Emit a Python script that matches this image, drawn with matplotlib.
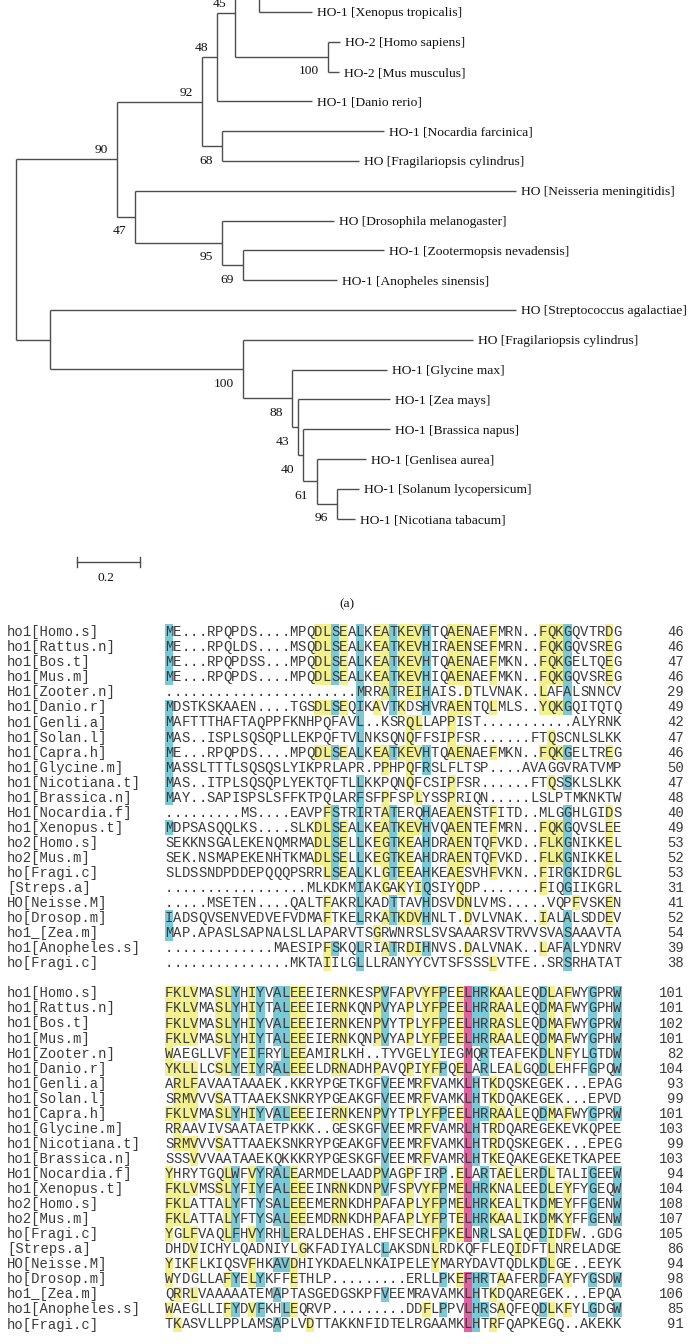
import matplotlib.pyplot as plt
from matplotlib.patches import Rectangle

# ---------------- tree data ----------------
# leaves top to bottom; the first five sit above the cropped top edge
leaf_labels = [
    'HO-1 [Homo sapiens]', 'HO-1 [Bos taurus]', 'HO-1 [Capra hircus]',
    'HO-1 [Rattus norvegicus]', 'HO-1 [Mus musculus]',
    'HO-1 [Xenopus tropicalis]', 'HO-2 [Homo sapiens]', 'HO-2 [Mus musculus]',
    'HO-1 [Danio rerio]', 'HO-1 [Nocardia farcinica]',
    'HO [Fragilariopsis cylindrus]', 'HO [Neisseria meningitidis]',
    'HO [Drosophila melanogaster]', 'HO-1 [Zootermopsis nevadensis]',
    'HO-1 [Anopheles sinensis]', 'HO [Streptococcus agalactiae]',
    'HO [Fragilariopsis cylindrus]', 'HO-1 [Glycine max]', 'HO-1 [Zea mays]',
    'HO-1 [Brassica napus]', 'HO-1 [Genlisea aurea]',
    'HO-1 [Solanum lycopersicum]', 'HO-1 [Nicotiana tabacum]',
]
leaf_depth = [1.00, 1.00, 1.00, 1.00, 1.00,
              0.941, 1.030, 1.027, 0.941, 1.170, 1.090, 1.588, 1.011,
              1.170, 1.020, 1.588, 1.452, 1.179, 1.189, 1.189, 1.112,
              1.090, 1.078]
# internal node: (depth, children, bootstrap)
nodes = {
    'bc':   (0.92, [1, 2], None),
    'hbc':  (0.88, [0, 'bc'], None),
    'rm':   (0.92, [3, 4], None),
    'mam':  (0.84, ['hbc', 'rm'], None),
    'xen':  (0.773, ['mam', 5], None),
    'hm':   (0.992, [6, 7], 100),
    'n45':  (0.697, ['xen', 'hm'], 45),
    'n48':  (0.640, ['n45', 8], 48),
    'n68':  (0.655, [9, 10], 68),
    'n92':  (0.592, ['n48', 'n68'], 92),
    'n69':  (0.722, [13, 14], 69),
    'n95':  (0.655, [12, 'n69'], 95),
    'n47':  (0.379, [11, 'n95'], 47),
    'n90':  (0.322, ['n92', 'n47'], 90),
    'n96':  (1.020, [21, 22], 96),
    'n61':  (0.957, [20, 'n96'], 61),
    'n40':  (0.913, [19, 'n61'], 40),
    'n43':  (0.897, [18, 'n40'], 43),
    'n88':  (0.877, [17, 'n43'], 88),
    'n100': (0.722, [16, 'n88'], 100),
    'nS':   (0.109, [15, 'n100'], None),
    'root': (0.0, ['n90', 'nS'], None),
}
scale_len = 0.2

# ---------------- alignment data ----------------
aln_names = ['ho1[Homo.s]', 'ho1[Rattus.n]', 'ho1[Bos.t]', 'ho1[Mus.m]',
             'Ho1[Zooter.n]', 'ho1[Danio.r]', 'ho1[Genli.a]', 'ho1[Solan.l]',
             'ho1[Capra.h]', 'ho1[Glycine.m]', 'ho1[Nicotiana.t]',
             'ho1[Brassica.n]', 'Ho1[Nocardia.f]', 'ho1[Xenopus.t]',
             'ho2[Homo.s]', 'ho2[Mus.m]', 'ho[Fragi.c]', '[Streps.a]',
             'HO[Neisse.M]', 'ho[Drosop.m]', 'ho1_[Zea.m]',
             'ho1[Anopheles.s]', 'ho[Fragi.c]']

block1_seq = [
    'ME...RPQPDS....MPQDLSEALKEATKEVHTQAENAEFMRN..FQKGQVTRDG',
    'ME...RPQLDS....MSQDLSEALKEATKEVHIRAENSEFMRN..FQKGQVSREG',
    'ME...RPQPDSS...MPQDLSEALKEATKEVHTQAENAEFMKN..FQKGELTQEG',
    'ME...RPQPDS....MPQDLSEALKEATKEVHIQAENAEFMKN..FQKGQVSREG',
    '.......................MRRATREIHAIS.DTLVNAK..LAFALSNNCV',
    'MDSTKSKAAEN....TGSDLSEQIKAVTKDSHVRAENTQLMLS..YQKGQITQTQ',
    'MAFTTTHAFTAQPPFKNHPQFAVL..KSRQLLAPPIST...........ALYRNK',
    'MAS..ISPLSQSQPLLEKPQFTVLNKSQNQFFSIPFSR......FTQSCNLSLKK',
    'ME...RPQPDS....MPQDLSEALKEATKEVHTQAENAEFMKN..FQKGELTREG',
    'MASSLTTTLSQSQSLYIKPRLAPR.PPHPQFRSLFLTSP....AVAGGVRATVMP',
    'MAS..ITPLSQSQPLYEKTQFTLLKKPQNQFCSIPFSR......FTQSSKLSLKK',
    'MAY..SAPISPSLSFFKTPQLARFSFPFSPLYSSPRIQN.....LSLPTMKNKTW',
    '.........MS....EAVPFSTRIRTATERQHAEAENSTFITD..MLGGHLGIDS',
    'MDPSASQQLKS....SLKDLSEALKEATKEVHVQAENTEFMRN..FQKGQVSLEE',
    'SEKKNSGALEKENQMRMADLSELLKEGTKEAHDRAENTQFVKD..FLKGNIKKEL',
    'SEK.NSMAPEKENHTKMADLSELLKEGTKEAHDRAENTQFVKD..FLKGNIKKEL',
    'SLDSSNDPDDEPQQQPSRRLSEALKLGTEEAHKEAESVHFVKN..FIRGKIDRGL',
    '.................MLKDKMIAKGAKYIQSIYQDP.......FIQGIIKGRL',
    '.....MSETEN....QALTFAKRLKADTTAVHDSVDNLVMS.....VQPFVSKEN',
    'IADSQVSENVEDVEFVDMAFTKELRKATKDVHNLT.DVLVNAK..IALALSDDEV',
    'MAP.APASLSAPNALSLLAPARVTSGRWNRSLSVSAAARSVTRVVSVASAAAVTA',
    '.............MAESIPFSKQLRIATRDIHNVS.DALVNAK..LAFALYDNRV',
    '...............MKTAIILGLLLRANYYCVTSFSSSLVTFE..SRSRHATAT',
]
block1_mask = [
    'c-----------------yycy-c-yycyyyc--yyy--y-----yyyc----y-',
    'c-----------------yycy-c-yycyyyc--yyy--y-----yyyc----y-',
    'c-----------------yycy-c-yycyyyc--yyy--y-----yyyc----y-',
    'c-----------------yycy-c-yycyyyc--yyy--y-----yyyc----y-',
    '-----------------------c--yc-yyc----y--------y--c------',
    'c-----------------yycy-c-y-cy--c--yyy--y-----yyyc------',
    'c----------------------c-----yy---y--------------------',
    'c----------------------c-----y----y-----------y--------',
    'c-----------------yycy-c-yycyyyc--yyy--y-----yyyc----y-',
    'c-------------------------y--y-c-----------------------',
    'c----------------------c-----y----y-----------y-c------',
    'c----------------------c--y---y---y--------------------',
    '-------------------yc--c--yc---c--yyy--y--------c----y-',
    'c-----------------yycy-c-yycyyyc--yyy--y-----yyyc----y-',
    '------------------yycy-c-yycyy-c--yyy--y-----yyyc----y-',
    '------------------yycy-c-yycyy-c--yyy--y-----yyyc----y-',
    '-------------------ycy-c--ycyy-c--yy---y-----y--c----y-',
    '-----------------------c--y-y-yc---y---------y--c------',
    '-------------------y---c---c---c---yy------------y---y-',
    'c------------------y---c--ycyyyc----y--------y--c----y-',
    'c------------------------y----------------------c------',
    '-------------------yc--c--yc-yyc----y--------y--c------',
    '-------------------y---c---------------y--------c------',
]
block1_end = [46, 46, 47, 46, 29, 49, 42, 47, 46, 50, 47, 48, 40, 49,
              53, 52, 53, 31, 41, 52, 54, 39, 38]

block2_seq = [
    'FKLVMASLYHIYVALEEEIERNKESPVFAPVYFPEELHRKAALEQDLAFWYGPRW',
    'FKLVMASLYHIYTALEEEIERNKQNPVYAPLYFPEELHRRAALEQDMAFWYGPHW',
    'FKLVMASLYHIYVALEEEIERNKENPVYTPLYFPEELHRRASLEQDMAFWYGPRW',
    'FKLVMASLYHIYTALEEEIERNKQNPVYAPLYFPEELHRRAALEQDMAFWYGPHW',
    'WAEGLLVFYEIFRYLEEAMIRLKH..TYVGELYIEGMQRTEAFEKDLNFYLGTDW',
    'YKLLLCSLYEIYRALEEELDRNADHPAVQPIYFPQELARLEALGQDLEHFFGPQW',
    'ARLFAVAATAAAEK.KKRYPGETKGFVEEMRFVAMKLHTKDQSKEGEK...EPAG',
    'SRMVVVSATTAAEKSNKRYPGEAKGFVEEMRFVAMKLHTKDQAKEGEK...EPVD',
    'FKLVMASLYHIYVALEEEIERNKENPVYTPLYFPEELHRRAALEQDMAFWYGPRW',
    'RRAAVIVSAATAETPKKK..GESKGFVEEMRFVAMRLHTRDQAREGEKEVKQPEE',
    'SRMVVVSATTAAEKSNKRYPGEAKGFVEEMRFVAMKLHTRDQSKEGEK...EPEG',
    'SSSVVVAATAAEKQKKKRYPGESKGFVEEMRFVAMRLHTKEQAKEGEKETKAPEE',
    'YHRYTGQLWFVYRALEARMDELAADPVAGPFIRP.ELARTAELERDLTALIGEEW',
    'FKLVMSSLYFIYEALEEEINRNKDNPVFSPVYFPMELHRKNALEEDLEYFYGEQW',
    'FKLATTALYFTYSALEEEMERNKDHPAFAPLYFPMELHRKEALTKDMEYFFGENW',
    'FKLATTALYFTYSALEEEMDRNKDHPAFAPLYFPTELHRKAALIKDMKYFFGENW',
    'YGLFVAQLFHVYRHLERALDEHAS.EHFSECHFPKELNRLSALQEDIDFW..GDG',
    'DHDVICHYLQADNIYLGKFADIYALCLAKSDNLRDKQFFLEQIDFTLNRELADGE',
    'YIKFLKIQSVFHKAVDHIYKDAELNKAIPELEYMARYDAVTQDLKDLGE..EEYK',
    'WYDGLLAFYELYKFFETHLP.........ERLLPKEFHRTAAFERDFAYFYGSDW',
    'QRRLVAAAAATEMAPTASGEDGSKPFVEEMRAVAMKLHTKDQAREGEK...EPQA',
    'WAEGLLIFYDVFKHLEQRVP.........DDFLPPVLHRSAQFEQDLKFYLGDGW',
    'TKASVLLPPLAMSAPLVDTTAKKNFIDTELRGAAMKLHTRFQAPKEGQ..AKEKK',
]
block2_mask = [
    'yyyy--yyc-yc-ccyy---yy---yc--y-yyc-ymccyy-y--cy-y--c--c',
    'yyyy--yyc-yc-ccyy---yy---yc--y-yyc-ymccyy-y--cy-y--c--c',
    'yyyy--yyc-yc-ccyy---yy---yc--y-yyc-ymccyy-y--cy-y--c--c',
    'yyyy--yyc-yc-ccyy---yy---yc--y-yyc-ymccyy-y--cy-y--c--c',
    'y------yc-yc--cyy---y-----------y---m-c------cy-y--c--c',
    'yyyy--yyc-yc-ccyy---yy---y---y-yyc-ym-c---y--cy----c--c',
    '-yyy----------------------c----y----mc-y---------------',
    '-yyy--y-------------------c----y----mc-y---------------',
    'yyyy--yyc-yc-ccyy---yy---yc--y-yyc-ymccyy-y--cy-y--c--c',
    '-y------------------------c----y----mc-y---------------',
    '-yyy--y-------------------c----y----mc-y---------------',
    '---y----------------------c----y----mc-y---------------',
    'y------yc-yc-ccy---------yc--y---c-ym-c-y-y--cy----c--c',
    'yyyy--yyc-yc-ccyy---yy---yc--y-yyc-ymccy--y--cy-y--c--c',
    'yyy----yc--c-ccyy---yy---y---y-yyc-ymccy--y--cy-y--c--c',
    'yyy----yc--c-ccyy---yy---y---y-yyc-ymccyy-y--cy-y--c--c',
    'y-yy---yc-yc--cy----------------yc-ym-c---y--cy-y------',
    '---y------------y---------c-----y---------y---y--------',
    'y--y------y--ccy----------------y------------cy--------',
    'y------yc-yc---y-----------------c-ymcc-y----c--y--c--c',
    '-y-y---------c------------c---------mc-y---------------',
    'y------yc-yc--cy---------------y-c--mcc-y----cy-y--c--c',
    '-y-----------c---y------------------mc-y---------------',
]
block2_end = [101, 101, 102, 101, 82, 104, 93, 99, 101, 103, 99, 103, 94,
              104, 108, 107, 105, 86, 94, 98, 106, 85, 91]

# ---------------- layout ----------------
W, H = 692, 1344
X_ROOT, PX_UNIT = 15.6, 315.0      # tree: pixel of root, pixels per unit
Y_TOP, ROW_PX = 12.0, 29.8          # tree: pixel of first visible leaf, leaf spacing
FIRST_VIS = 5
TREE_H = 620
COL0, PITCH = 165.0, 8.3           # alignment: left edge of column 0, column width
LINE0, LINE_PX = 632.0, 15.05      # alignment: centre of first line, line spacing
ALN_TOP = 615

hl_colors = {'y': '#f3f08e', 'c': '#79c9d8', 'm': '#e2609f'}
line_col = '#4d4d4d'
serif = ['Liberation Serif', 'DejaVu Serif']
mono = ['Liberation Mono', 'DejaVu Sans Mono']

fig = plt.figure(figsize=(W / 100, H / 100), dpi=100)

# ---- tree ----
ax = fig.add_axes([0, 1 - TREE_H / H, 1, TREE_H / H])
ax.set_xlim(-X_ROOT / PX_UNIT, (W - X_ROOT) / PX_UNIT)
ax.set_ylim(FIRST_VIS + (TREE_H - Y_TOP) / ROW_PX, FIRST_VIS - Y_TOP / ROW_PX)
ax.axis('off')


def ypos(k):
    if isinstance(k, int):
        return k
    ch = nodes[k][1]
    return (ypos(ch[0]) + ypos(ch[-1])) / 2


def xpos(k):
    return leaf_depth[k] if isinstance(k, int) else nodes[k][0]


parent = {}
for name, (d, ch, bs) in nodes.items():
    for c in ch:
        parent[c] = name

dx = 1.0 / PX_UNIT
dy = 1.0 / ROW_PX
for name, (d, ch, bs) in nodes.items():
    ys = [ypos(c) for c in ch]
    ax.plot([d, d], [ys[0], ys[-1]], color=line_col, lw=1.0,
            solid_capstyle='butt')
    for c in ch:
        ax.plot([d, xpos(c)], [ypos(c), ypos(c)], color=line_col, lw=1.0,
                solid_capstyle='butt')
    if bs is not None:
        upper = nodes[parent[name]][1][0] == name
        off = -9 * dy if upper else 14.5 * dy
        ax.text(d - 9 * dx, ypos(name) + off, str(bs), ha='right',
                va='center', fontsize=9.7, family=serif, color='#111111')

# labels of leaves above the cropped edge are not drawn
for i, lab in enumerate(leaf_labels):
    if i < FIRST_VIS:
        continue
    ax.text(leaf_depth[i] + 5 * dx, i + 0.05, lab, ha='left', va='center',
            fontsize=9.7, family=serif, color='#111111')

# scale bar
sb_x, sb_y = (77 - X_ROOT) / PX_UNIT, FIRST_VIS + (562 - Y_TOP) / ROW_PX
ax.plot([sb_x, sb_x + scale_len], [sb_y, sb_y], color=line_col, lw=1.0)
for xx in (sb_x, sb_x + scale_len):
    ax.plot([xx, xx], [sb_y - 5 * dy, sb_y + 5 * dy], color=line_col, lw=1.0)
ax.text(sb_x + scale_len / 2 - 3 * dx, sb_y + 16 * dy, str(scale_len),
        ha='center', va='center', fontsize=9.7, family=serif, color='#111111')

fig.text(347 / W, 1 - 604 / H, '(a)', ha='center', va='center',
         fontsize=9.7, family=serif, color='#111111')

# ---- alignment ----
aa = fig.add_axes([0, 0, 1, (H - ALN_TOP) / H])
aa.set_xlim(-COL0 / PITCH, (W - COL0) / PITCH)
aa.set_ylim((H - LINE0) / LINE_PX, (ALN_TOP - LINE0) / LINE_PX)
aa.axis('off')

txt_col = '#3a3a3a'
base_off = 4.2 / LINE_PX
blocks = [(block1_seq, block1_mask, block1_end),
          (block2_seq, block2_mask, block2_end)]
for b, (seqs, masks, ends) in enumerate(blocks):
    for r, (s, m, e) in enumerate(zip(seqs, masks, ends)):
        assert len(s) == 55 and len(m) == 55, (b, r, len(s), len(m))
        L = b * (len(seqs) + 1) + r
        aa.text((7 - COL0) / PITCH, L + base_off, aln_names[r], ha='left',
                va='baseline', fontsize=10, family=mono, color=txt_col)
        for c, (ch, mk) in enumerate(zip(s, m)):
            if mk in hl_colors:
                aa.add_patch(Rectangle((c, L - 0.5), 1, 1, color=hl_colors[mk],
                                       lw=0))
            aa.text(c + 0.5, L + base_off, ch, ha='center', va='baseline',
                    fontsize=10, family=mono, color=txt_col)
        aa.text((684 - COL0) / PITCH, L + base_off, str(e), ha='right',
                va='baseline', fontsize=10, family=mono, color=txt_col)

fig.savefig('out.png', dpi=100)
